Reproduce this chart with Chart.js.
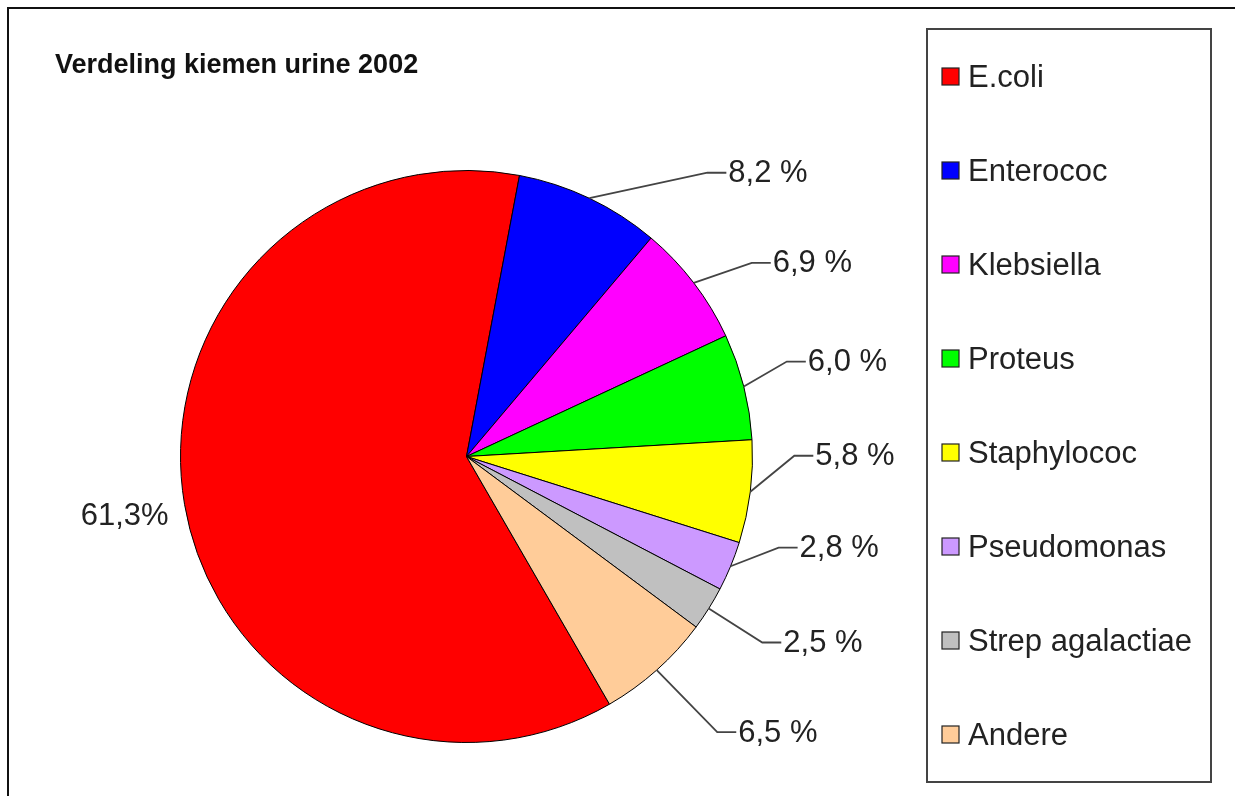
<!DOCTYPE html>
<html>
<head>
<meta charset="utf-8">
<script src="https://cdn.jsdelivr.net/npm/chart.js@4/dist/chart.umd.min.js"></script>
<style>
  html, body { margin: 0; padding: 0; background: #ffffff; }
  canvas { display: block; }
</style>
</head>
<body>
<canvas id="c" width="1235" height="796"></canvas>
<script>
// ---- data ----
const titleText = 'Verdeling kiemen urine 2002';
const categories = ['E.coli', 'Enterococ', 'Klebsiella', 'Proteus', 'Staphylococ', 'Pseudomonas', 'Strep agalactiae', 'Andere'];
const percentages = [61.3, 8.2, 6.9, 6.0, 5.8, 2.8, 2.5, 6.5];
const sliceColors = ['#FF0000', '#0000FF', '#FF00FF', '#00FF00', '#FFFF00', '#CC99FF', '#C0C0C0', '#FFCC99'];

// label placement (manually dragged labels, as offsets from the slice edge)
const labelOffsets = [[-16, 12], [118, -25.5], [58, -20], [43, -25], [44, -36], [48, -18.5], [53.5, 34], [60.5, 62]];

const FONT = '"Liberation Sans", Arial, sans-serif';

function fmt(v, i) {
  return v.toFixed(1).replace('.', ',') + (i === 0 ? '%' : ' %');
}

const decorPlugin = {
  id: 'decor',
  beforeDraw(chart) {
    const ctx = chart.ctx;
    ctx.save();
    ctx.fillStyle = '#ffffff';
    ctx.fillRect(0, 0, chart.width, chart.height);
    // outer frame (top and left visible)
    ctx.strokeStyle = '#111111';
    ctx.lineWidth = 2;
    ctx.beginPath();
    ctx.moveTo(8, chart.height);
    ctx.lineTo(8, 8);
    ctx.lineTo(chart.width, 8);
    ctx.stroke();
    // title
    ctx.fillStyle = '#111111';
    ctx.font = 'bold 27px ' + FONT;
    ctx.textBaseline = 'middle';
    ctx.textAlign = 'left';
    ctx.fillText(titleText, 55, 66);
    // legend box
    ctx.strokeStyle = '#444444';
    ctx.lineWidth = 2;
    ctx.strokeRect(927, 29, 284, 753);
    const y0 = 77, step = 94.0;
    ctx.font = '31px ' + FONT;
    categories.forEach((name, i) => {
      const y = y0 + i * step;
      ctx.fillStyle = sliceColors[i];
      ctx.fillRect(942, y - 9, 17, 17);
      ctx.strokeStyle = '#222222';
      ctx.lineWidth = 1.2;
      ctx.strokeRect(942, y - 9, 17, 17);
      ctx.fillStyle = '#222222';
      ctx.fillText(name, 968, y + 1);
    });
    ctx.restore();
  },
  afterDatasetsDraw(chart) {
    const ctx = chart.ctx;
    const meta = chart.getDatasetMeta(0);
    ctx.save();
    ctx.font = '31px ' + FONT;
    ctx.textBaseline = 'middle';
    ctx.strokeStyle = '#444444';
    ctx.fillStyle = '#222222';
    ctx.lineWidth = 1.8;
    meta.data.forEach((arc, i) => {
      const p = arc.getProps(['x', 'y', 'startAngle', 'endAngle', 'outerRadius'], true);
      const mid = (p.startAngle + p.endAngle) / 2;
      const ax = p.x + Math.cos(mid) * p.outerRadius;
      const ay = p.y + Math.sin(mid) * p.outerRadius;
      const ex = ax + labelOffsets[i][0];
      const ey = ay + labelOffsets[i][1];
      const txt = fmt(chart.data.datasets[0].data[i], i);
      if (i === 0) {
        ctx.textAlign = 'right';
        ctx.fillText(txt, ex, ey);
        return;
      }
      ctx.beginPath();
      ctx.moveTo(ax, ay);
      ctx.lineTo(ex, ey);
      ctx.lineTo(ex + 19, ey);
      ctx.stroke();
      ctx.textAlign = 'left';
      ctx.fillText(txt, ex + 21, ey + 1);
    });
    ctx.restore();
  }
};

new Chart(document.getElementById('c'), {
  type: 'pie',
  data: {
    labels: categories,
    datasets: [{
      data: percentages,
      backgroundColor: sliceColors,
      borderColor: '#000000',
      borderWidth: 1
    }]
  },
  options: {
    responsive: false,
    devicePixelRatio: 1,
    animation: false,
    rotation: 150,
    layout: { padding: { left: 180, right: 482, top: 170, bottom: 53 } },
    plugins: {
      legend: { display: false },
      title: { display: false },
      tooltip: { enabled: false }
    }
  },
  plugins: [decorPlugin]
});
</script>
</body>
</html>
